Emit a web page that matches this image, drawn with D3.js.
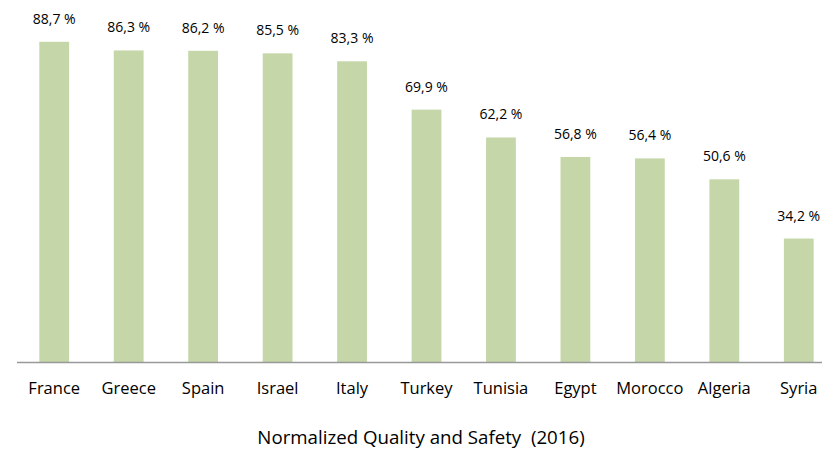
<!DOCTYPE html>
<html>
<head>
<meta charset="utf-8">
<script src="https://cdn.jsdelivr.net/npm/d3@7"></script>
<style>
  body { margin: 0; background: #fff; }
  text { font-family: "Open Sans", "DejaVu Sans", sans-serif; fill: #000; }
</style>
</head>
<body>
<svg id="chart" width="822" height="449"></svg>
<script>
var countries = ["France", "Greece", "Spain", "Israel", "Italy", "Turkey", "Tunisia", "Egypt", "Morocco", "Algeria", "Syria"];
var scores = [88.7, 86.3, 86.2, 85.5, 83.3, 69.9, 62.2, 56.8, 56.4, 50.6, 34.2];
var chartTitle = "Normalized Quality and Safety  (2016)";

var svg = d3.select("#chart");
var baseY = 362;

var x = d3.scaleBand()
  .domain(countries)
  .range([17, 836])
  .paddingInner(0.6)
  .paddingOuter(0.3);

var y = d3.scaleLinear()
  .domain([0, 100])
  .range([baseY, 1]);

var rows = countries.map(function(c, i){ return {name: c, value: scores[i]}; });

svg.selectAll("rect.bar")
  .data(rows)
  .enter().append("rect")
  .attr("class", "bar")
  .attr("x", function(d){ return x(d.name); })
  .attr("y", function(d){ return y(d.value); })
  .attr("width", x.bandwidth())
  .attr("height", function(d){ return baseY - y(d.value); })
  .style("fill", "#c5d6a8");

// value labels
svg.selectAll("text.val")
  .data(rows)
  .enter().append("text")
  .attr("class", "val")
  .attr("x", function(d){ return x(d.name) + x.bandwidth() / 2; })
  .attr("y", function(d){ return y(d.value) - 18; })
  .attr("text-anchor", "middle")
  .style("font-size", "14px")
  .text(function(d){ return d.value.toFixed(1).replace(".", ",") + " %"; });

// axis line
svg.append("line")
  .attr("x1", 17).attr("x2", 822)
  .attr("y1", baseY + 0.5).attr("y2", baseY + 0.5)
  .style("stroke", "#999").style("stroke-width", 1.5);

// category labels
svg.selectAll("text.cat")
  .data(countries)
  .enter().append("text")
  .attr("class", "cat")
  .attr("x", function(d){ return x(d) + x.bandwidth() / 2; })
  .attr("y", 394)
  .attr("text-anchor", "middle")
  .style("font-size", "16.5px")
  .text(function(d){ return d; });

svg.append("text")
  .attr("x", 421)
  .attr("y", 444)
  .attr("text-anchor", "middle")
  .style("font-size", "18.7px")
  .style("white-space", "pre")
  .text(chartTitle);
</script>
</body>
</html>
